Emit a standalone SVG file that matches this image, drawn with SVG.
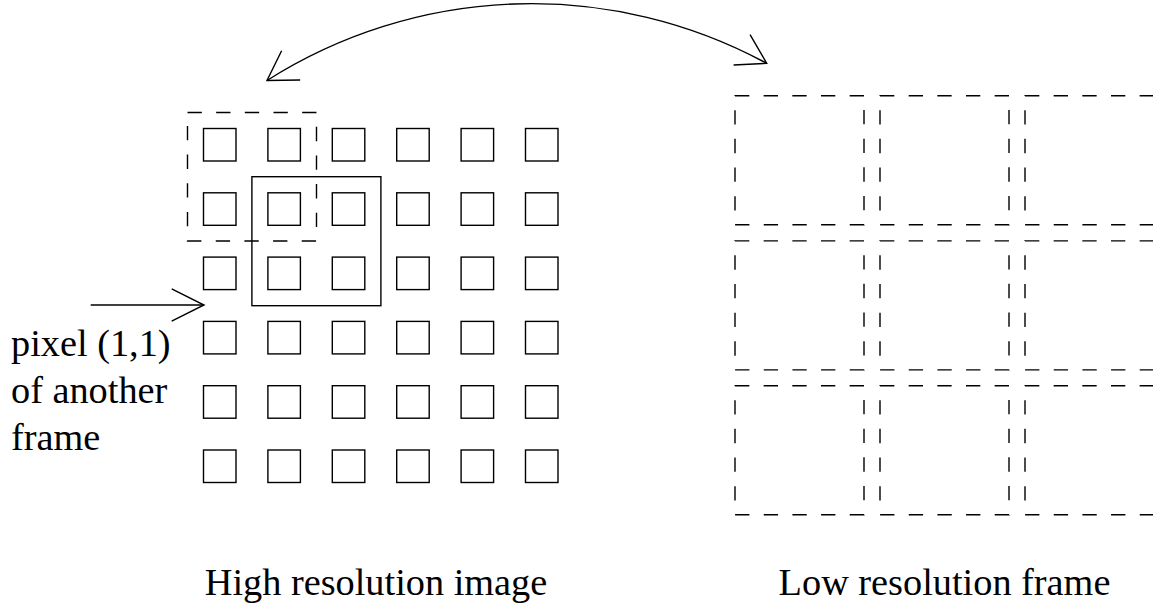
<svg xmlns="http://www.w3.org/2000/svg" width="1153" height="608" viewBox="0 0 1153 608">
<style>
.sq{fill:none;stroke:#000;stroke-width:1.4}
.dr{fill:none;stroke:#000;stroke-width:1.4;stroke-dasharray:14.33 14.33}
.ln{fill:none;stroke:#000;stroke-width:1.4}
.t{font-family:"Liberation Serif","Times New Roman",serif;font-size:38.3px;fill:#000}
</style>
<defs>
<marker id="ah" markerUnits="userSpaceOnUse" orient="auto-start-reverse" markerWidth="10" markerHeight="10" refX="0" refY="0" overflow="visible">
<path d="M -28.3 -17.3 L 0 0 L -28.3 17.3" fill="none" stroke="#000" stroke-width="1.4"/>
</marker>
<marker id="ah2" markerUnits="userSpaceOnUse" orient="auto" markerWidth="10" markerHeight="10" refX="0" refY="0" overflow="visible">
<path d="M -32.3 -16.2 L 0 0 L -32.3 16.2" fill="none" stroke="#000" stroke-width="1.4"/>
</marker>
</defs>
<rect width="1153" height="608" fill="#fff"/>
<g id="high-res-image">
<rect class="sq" x="203.5" y="128.5" width="32.5" height="32.5"/>
<rect class="sq" x="267.9" y="128.5" width="32.5" height="32.5"/>
<rect class="sq" x="332.3" y="128.5" width="32.5" height="32.5"/>
<rect class="sq" x="396.7" y="128.5" width="32.5" height="32.5"/>
<rect class="sq" x="461.1" y="128.5" width="32.5" height="32.5"/>
<rect class="sq" x="525.5" y="128.5" width="32.5" height="32.5"/>
<rect class="sq" x="203.5" y="192.8" width="32.5" height="32.5"/>
<rect class="sq" x="267.9" y="192.8" width="32.5" height="32.5"/>
<rect class="sq" x="332.3" y="192.8" width="32.5" height="32.5"/>
<rect class="sq" x="396.7" y="192.8" width="32.5" height="32.5"/>
<rect class="sq" x="461.1" y="192.8" width="32.5" height="32.5"/>
<rect class="sq" x="525.5" y="192.8" width="32.5" height="32.5"/>
<rect class="sq" x="203.5" y="257.1" width="32.5" height="32.5"/>
<rect class="sq" x="267.9" y="257.1" width="32.5" height="32.5"/>
<rect class="sq" x="332.3" y="257.1" width="32.5" height="32.5"/>
<rect class="sq" x="396.7" y="257.1" width="32.5" height="32.5"/>
<rect class="sq" x="461.1" y="257.1" width="32.5" height="32.5"/>
<rect class="sq" x="525.5" y="257.1" width="32.5" height="32.5"/>
<rect class="sq" x="203.5" y="321.4" width="32.5" height="32.5"/>
<rect class="sq" x="267.9" y="321.4" width="32.5" height="32.5"/>
<rect class="sq" x="332.3" y="321.4" width="32.5" height="32.5"/>
<rect class="sq" x="396.7" y="321.4" width="32.5" height="32.5"/>
<rect class="sq" x="461.1" y="321.4" width="32.5" height="32.5"/>
<rect class="sq" x="525.5" y="321.4" width="32.5" height="32.5"/>
<rect class="sq" x="203.5" y="385.7" width="32.5" height="32.5"/>
<rect class="sq" x="267.9" y="385.7" width="32.5" height="32.5"/>
<rect class="sq" x="332.3" y="385.7" width="32.5" height="32.5"/>
<rect class="sq" x="396.7" y="385.7" width="32.5" height="32.5"/>
<rect class="sq" x="461.1" y="385.7" width="32.5" height="32.5"/>
<rect class="sq" x="525.5" y="385.7" width="32.5" height="32.5"/>
<rect class="sq" x="203.5" y="450" width="32.5" height="32.5"/>
<rect class="sq" x="267.9" y="450" width="32.5" height="32.5"/>
<rect class="sq" x="332.3" y="450" width="32.5" height="32.5"/>
<rect class="sq" x="396.7" y="450" width="32.5" height="32.5"/>
<rect class="sq" x="461.1" y="450" width="32.5" height="32.5"/>
<rect class="sq" x="525.5" y="450" width="32.5" height="32.5"/>
<rect class="dr" x="187.5" y="112.5" width="129" height="128.5"/>
<rect class="sq" x="251.9" y="176.7" width="129" height="129"/>
<text class="t" x="376" y="595" text-anchor="middle">High resolution image</text>
</g>
<g id="low-res-frame">
<rect class="dr" x="735" y="95.7" width="129" height="129"/>
<rect class="dr" x="880" y="95.7" width="129" height="129"/>
<rect class="dr" x="1025" y="95.7" width="129" height="129"/>
<rect class="dr" x="735" y="240.9" width="129" height="129"/>
<rect class="dr" x="880" y="240.9" width="129" height="129"/>
<rect class="dr" x="1025" y="240.9" width="129" height="129"/>
<rect class="dr" x="735" y="385.7" width="129" height="129"/>
<rect class="dr" x="880" y="385.7" width="129" height="129"/>
<rect class="dr" x="1025" y="385.7" width="129" height="129"/>
<text class="t" x="944.5" y="595" text-anchor="middle">Low resolution frame</text>
</g>
<g id="label-pixel">
<text class="t" x="11" y="356">pixel (1,1)</text>
<text class="t" x="11" y="403">of another</text>
<text class="t" x="11" y="450">frame</text>
</g>
<g id="connectors">
<path class="ln" d="M 267 80.5 A 493.6 493.6 0 0 1 766.7 63.3" marker-start="url(#ah)" marker-end="url(#ah)"/>
<line class="ln" x1="90.7" y1="305" x2="204" y2="305" marker-end="url(#ah2)"/>
</g>
</svg>
